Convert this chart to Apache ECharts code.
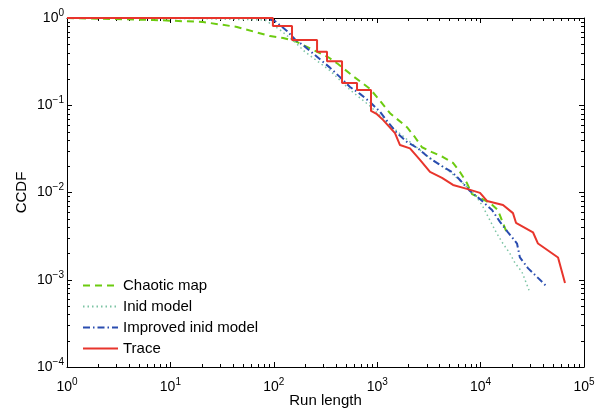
<!DOCTYPE html>
<html>
<head>
<meta charset="utf-8">
<script src="https://cdn.jsdelivr.net/npm/echarts@6/dist/echarts.min.js"></script>
<style>
  html, body { margin: 0; padding: 0; background: #fff; }
  #chart { width: 600px; height: 409px; }
</style>
</head>
<body>
<div id="chart"></div>
<script>
// CCDF of run length, log-log
var chaoticMap = [
  [1, 1], [6.8, 0.95], [20.7, 0.9], [44, 0.79], [92, 0.62], [123, 0.59], [160, 0.545],
  [200, 0.48], [262, 0.41], [334, 0.357], [418, 0.297], [583, 0.216], [852, 0.154],
  [995, 0.124], [1330, 0.081], [1941, 0.056], [2320, 0.043], [2710, 0.033], [3390, 0.029],
  [4330, 0.0255], [5410, 0.0218], [6320, 0.0172], [7380, 0.0128], [8260, 0.0096],
  [12330, 0.0076], [14700, 0.0063], [18000, 0.0034]
];
var inidModel = [
  [1, 1], [19, 0.985], [82, 0.95], [115, 0.73], [160, 0.53], [200, 0.41], [349, 0.25],
  [546, 0.15], [852, 0.098], [1330, 0.059], [2075, 0.038], [3240, 0.0248], [5060, 0.0172],
  [7060, 0.0122], [8830, 0.0094], [10300, 0.0072], [13780, 0.0037], [16100, 0.0027],
  [19200, 0.002], [21500, 0.00156], [25100, 0.00123], [29400, 0.00076]
];
var improvedInid = [
  [1, 1], [82, 1], [103, 0.92], [134, 0.71], [160, 0.57], [200, 0.47], [349, 0.27],
  [437, 0.21], [546, 0.162], [682, 0.135], [852, 0.109], [1065, 0.084], [1271, 0.064],
  [1553, 0.048], [1941, 0.038], [2480, 0.032], [3100, 0.0255], [4050, 0.0207],
  [5290, 0.0172], [6320, 0.0139], [7890, 0.0104], [9870, 0.0084], [12900, 0.0063],
  [15400, 0.0046], [18400, 0.0035], [22500, 0.0026], [24000, 0.0018], [28700, 0.00136],
  [35900, 0.00105], [43900, 0.00083]
];
var trace = [
  [1, 1], [98, 1], [98, 0.81], [150, 0.81], [150, 0.56], [262, 0.56], [262, 0.41],
  [327, 0.41], [327, 0.32], [457, 0.32], [457, 0.18], [638, 0.18], [638, 0.15],
  [871, 0.15], [871, 0.086], [995, 0.079], [1138, 0.068], [1486, 0.048], [1661, 0.035],
  [2075, 0.032], [2594, 0.0236], [3240, 0.0172], [4236, 0.0147], [5410, 0.0122],
  [7380, 0.011], [9870, 0.0099], [11530, 0.008], [16480, 0.0072], [20560, 0.0058],
  [21990, 0.0045], [32100, 0.0035], [35900, 0.0026], [56100, 0.0018], [65500, 0.00092]
];
var seriesNames = ["Chaotic map", "Inid model", "Improved inid model", "Trace"];
var xMinorTicks = [];
var yMinorTicks = [];
[1, 10, 100, 1000, 10000].forEach(function(d) {
  for (var k = 2; k <= 9; k++) xMinorTicks.push([k * d, 1]);
});
[0.0001, 0.001, 0.01, 0.1].forEach(function(d) {
  for (var k = 2; k <= 9; k++) yMinorTicks.push([1, +(k * d).toPrecision(3)]);
});

var chart = echarts.init(document.getElementById("chart"));
var font = "Liberation Sans, Arial, Helvetica, sans-serif";

function powLabel(v) {
  var e = Math.round(Math.log10(v));
  return "{b|10}{s|" + (e < 0 ? "\u2212" + (-e) : e) + "}";
}
var labelRich = {
  b: { fontSize: 14, fontFamily: font, color: "#000" },
  s: { fontSize: 10, fontFamily: font, color: "#000", padding: [0, 0, 10, 0] }
};
var axisLine = { show: true, lineStyle: { color: "#000", width: 1 } };

function tickSeries(data, isX) {
  return {
    type: "custom",
    silent: true,
    data: data,
    z: 1,
    renderItem: function(params, api) {
      var cs = params.coordSys;
      var p = api.coord([api.value(0), api.value(1)]);
      var lines = [];
      var st = { stroke: "#000", lineWidth: 1 };
      if (isX) {
        var x = Math.round(p[0]) + 0.5;
        lines.push({ type: "line", shape: { x1: x, y1: cs.y + cs.height, x2: x, y2: cs.y + cs.height - 3 }, style: st });
        lines.push({ type: "line", shape: { x1: x, y1: cs.y, x2: x, y2: cs.y + 3 }, style: st });
      } else {
        var y = Math.round(p[1]) + 0.5;
        lines.push({ type: "line", shape: { x1: cs.x, y1: y, x2: cs.x + 3, y2: y }, style: st });
        lines.push({ type: "line", shape: { x1: cs.x + cs.width, y1: y, x2: cs.x + cs.width - 3, y2: y }, style: st });
      }
      return { type: "group", children: lines };
    }
  };
}

chart.setOption({
  animation: false,
  backgroundColor: "#fff",
  grid: { left: 67, right: 16, top: 18, bottom: 42, outerBoundsMode: "none" },
  legend: {
    data: seriesNames,
    orient: "vertical",
    left: 82,
    top: 278,
    padding: 0,
    itemWidth: 35,
    itemHeight: 14,
    itemGap: 6,
    itemStyle: { opacity: 0 },
    textStyle: { fontSize: 15, fontFamily: font, color: "#000" }
  },
  xAxis: [
    {
      type: "log",
      logBase: 10,
      min: 1,
      max: 100000,
      interval: 1,
      position: "bottom",
      name: "Run length",
      nameLocation: "middle",
      nameGap: 26,
      nameMoveOverlap: false,
      nameTextStyle: { fontSize: 15, fontFamily: font, color: "#000" },
      axisLine: axisLine,
      axisTick: { inside: true, length: 5, lineStyle: { color: "#000" } },
      axisLabel: { formatter: powLabel, rich: labelRich, margin: 10 },
      splitLine: { show: false }
    },
    {
      type: "log",
      logBase: 10,
      min: 1,
      max: 100000,
      interval: 1,
      position: "top",
      axisLine: axisLine,
      axisTick: { inside: true, length: 5, lineStyle: { color: "#000" } },
      axisLabel: { show: false },
      splitLine: { show: false }
    }
  ],
  yAxis: [
    {
      type: "log",
      logBase: 10,
      min: 0.0001,
      max: 1,
      interval: 1,
      position: "left",
      name: "CCDF",
      nameLocation: "middle",
      nameGap: 38,
      nameMoveOverlap: false,
      nameTextStyle: { fontSize: 15, fontFamily: font, color: "#000" },
      axisLine: axisLine,
      axisTick: { inside: true, length: 5, lineStyle: { color: "#000" } },
      axisLabel: { formatter: powLabel, rich: labelRich, margin: 3 },
      splitLine: { show: false }
    },
    {
      type: "log",
      logBase: 10,
      min: 0.0001,
      max: 1,
      interval: 1,
      position: "right",
      axisLine: axisLine,
      axisTick: { inside: true, length: 5, lineStyle: { color: "#000" } },
      axisLabel: { show: false },
      splitLine: { show: false }
    }
  ],
  series: [
    tickSeries(xMinorTicks, true),
    tickSeries(yMinorTicks, false),
    {
      name: "Chaotic map",
      type: "line",
      data: chaoticMap,
      symbol: "none",
      color: "#6ccb10",
      lineStyle: { color: "#6ccb10", width: 2, type: [7, 5] },
      z: 3
    },
    {
      name: "Inid model",
      type: "line",
      data: inidModel,
      symbol: "none",
      color: "#7cc4a4",
      lineStyle: { color: "#7cc4a4", width: 1.5, type: [1.5, 3] },
      z: 4
    },
    {
      name: "Improved inid model",
      type: "line",
      data: improvedInid,
      symbol: "none",
      color: "#2a4db0",
      lineStyle: { color: "#2a4db0", width: 2, type: [7, 3, 1.5, 3] },
      z: 5
    },
    {
      name: "Trace",
      type: "line",
      data: trace,
      symbol: "none",
      color: "#e8352c",
      lineStyle: { color: "#e8352c", width: 2 },
      z: 6
    }
  ]
});
</script>
</body>
</html>
